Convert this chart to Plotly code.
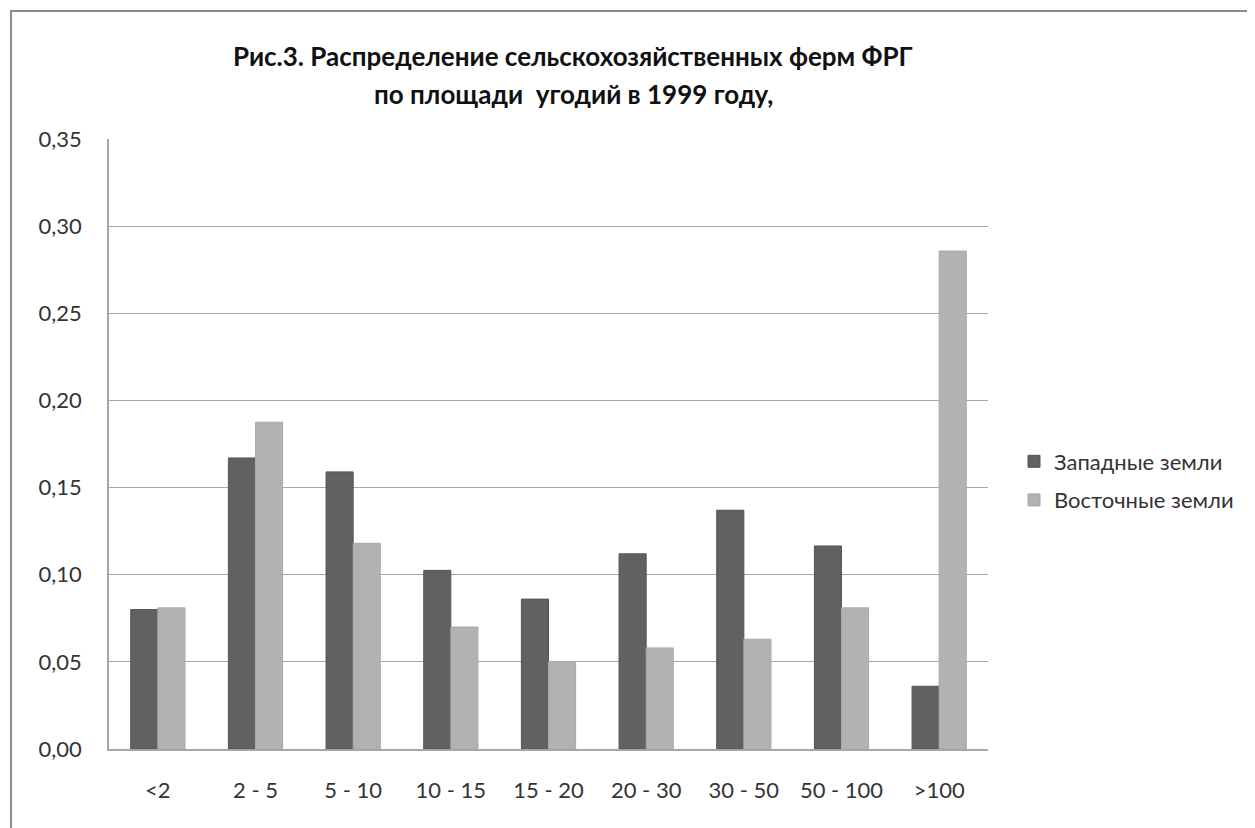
import plotly.graph_objects as go

categories = ["<2", "2 - 5", "5 - 10", "10 - 15", "15 - 20", "20 - 30", "30 - 50", "50 - 100", ">100"]
west = [0.080, 0.167, 0.159, 0.1025, 0.086, 0.112, 0.137, 0.1165, 0.036]
east = [0.081, 0.1875, 0.118, 0.070, 0.050, 0.058, 0.063, 0.081, 0.2857]
series_names = ["Западные земли", "Восточные земли"]
title_lines = ["Рис.3. Распределение сельскохозяйственных ферм ФРГ", "по площади  угодий в 1999 году,"]
y_ticks = [0, 0.05, 0.10, 0.15, 0.20, 0.25, 0.30, 0.35]

W, H = 1255, 828
OFF = 8  # page body margin
L, R, T, B = 109 - OFF, 988 - OFF, 139 - OFF, 749 - OFF
FONT = "Lato"


def px_x(x):
    return (x - OFF - L) / (R - L)


def px_y(y):
    return (B - (y - OFF)) / (B - T)


fig = go.Figure()
fig.add_bar(x=categories, y=west, name=series_names[0], legendgroup="w",
            marker=dict(color="#616161", line=dict(color="#545454", width=1)))
fig.add_bar(x=categories, y=east, name=series_names[1], legendgroup="e",
            marker=dict(color="#B2B2B2", line=dict(color="#A8A8A8", width=1)))

fig.update_layout(
    width=W, height=H,
    margin=dict(l=L, r=W - R, t=T, b=H - B, pad=0),
    paper_bgcolor="white", plot_bgcolor="white",
    separators=", ",
    barmode="group", bargap=0.445, bargroupgap=0,
    font=dict(family=FONT, size=22, color="#333333"),
    showlegend=True,
    legend=dict(x=px_x(1014), y=px_y(481), xanchor="left", yanchor="middle",
                font=dict(family=FONT, size=22, color="#333333"),
                traceorder="grouped", tracegroupgap=7, itemwidth=30,
                bgcolor="rgba(0,0,0,0)"),
    xaxis=dict(showgrid=False, showline=True, linecolor="#A6A6A6", linewidth=1.5,
               ticks="", tickfont=dict(size=22), ticklabelstandoff=21),
    yaxis=dict(range=[0, 0.35], tickvals=y_ticks, tickformat=".2f",
               showgrid=True, gridcolor="#A6A6A6", gridwidth=1.2,
               showline=True, linecolor="#A6A6A6", linewidth=1.5,
               zeroline=False, ticks="", tickfont=dict(size=22), ticklabelstandoff=21),
)

# Title lines
for line, ypx in zip(title_lines, [56, 94]):
    fig.add_annotation(text="<b>%s</b>" % line, x=px_x(573), y=px_y(ypx),
                       xref="paper", yref="paper", showarrow=False,
                       font=dict(family=FONT, size=26, color="#111111"),
                       xanchor="center", yanchor="middle")

# Outer chart border
fig.add_shape(type="rect", xref="paper", yref="paper",
              x0=px_x(11), x1=px_x(1320),
              y0=px_y(900), y1=px_y(11),
              line=dict(color="#8C8C8C", width=2), fillcolor="rgba(0,0,0,0)", layer="below")

fig.write_html("out.html")
